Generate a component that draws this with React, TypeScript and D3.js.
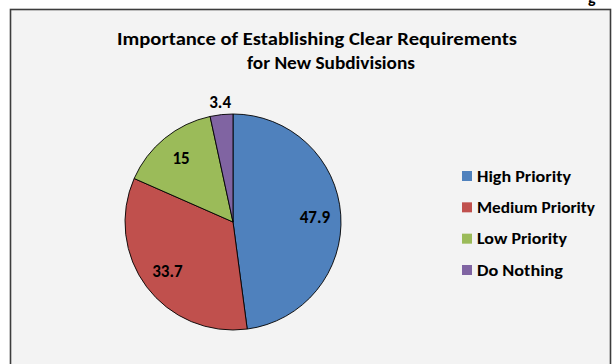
import React from "react";
import * as d3 from "d3";

const categories = ["High Priority", "Medium Priority", "Low Priority", "Do Nothing"];
const values = [47.9, 33.7, 15, 3.4];
const labels = ["47.9", "33.7", "15", "3.4"];
const colors = ["#4F81BD", "#C0504D", "#9BBB59", "#8064A2"];
const titleLines = ["Importance of Establishing Clear Requirements", "for New Subdivisions"];
const titleWidths = [400, 168];
const titleCenters = [317, 331];
const legendWidths = [94, 118, 90, 86];

const FONT = "Calibri, Carlito, Lato, 'Open Sans', sans-serif";

export default function App() {
  const width = 613;
  const height = 364;
  const cx = 233;
  const cy = 222;
  const r = 108;

  const pie = d3.pie<number>().sort(null).value((d) => d);
  const arcs = pie(values);
  const arcGen = d3.arc<d3.PieArcDatum<number>>().innerRadius(0).outerRadius(r);

  const labelPos = (a: d3.PieArcDatum<number>) => {
    const mid = (a.startAngle + a.endAngle) / 2;
    const small = a.endAngle - a.startAngle < 0.3;
    const rr = small ? r + 13 : r * 0.76;
    return [Math.sin(mid) * rr, -Math.cos(mid) * rr];
  };

  const legendY = d3.scalePoint<string>().domain(categories).range([176, 270]);

  return (
    <svg width={width} height={height} style={{ position: "absolute", left: 0, top: 0 }}>
      <rect x={0} y={0} width={width} height={height} fill="#ffffff" />
      <text x={588} y={3} fontFamily={FONT} fontWeight="bold" fontSize={16} fill="#000">g</text>
      <rect x={10.5} y={9.5} width={600} height={380} fill="#f3f3f3" stroke="#3c3c3c" strokeWidth={1.6} />
      {titleLines.map((t, i) => (
        <text
          key={t}
          x={titleCenters[i]}
          y={45 + i * 24}
          textAnchor="middle"
          fontFamily={FONT}
          fontWeight="bold"
          fontSize={19}
          textLength={titleWidths[i]}
          lengthAdjust="spacingAndGlyphs"
          fill="#000"
        >
          {t}
        </text>
      ))}
      <g transform={`translate(${cx},${cy})`}>
        {arcs.map((a, i) => (
          <path key={i} d={arcGen(a) || ""} fill={colors[i]} stroke="#000" strokeWidth={0.9} />
        ))}
        {arcs.map((a, i) => {
          const [x, y] = labelPos(a);
          return (
            <text
              key={"l" + i}
              x={x}
              y={y}
              dy="0.35em"
              textAnchor="middle"
              fontFamily={FONT}
              fontWeight="bold"
              fontSize={17}
              fill="#000"
            >
              {labels[i]}
            </text>
          );
        })}
      </g>
      {categories.map((c, i) => (
        <g key={c} transform={`translate(462,${legendY(c)})`}>
          <rect x={0} y={-5} width={10} height={10} fill={colors[i]} />
          <text
            x={15}
            y={0}
            dy="0.35em"
            fontFamily={FONT}
            fontWeight="bold"
            fontSize={16}
            textLength={legendWidths[i]}
            lengthAdjust="spacingAndGlyphs"
            fill="#000"
          >
            {c}
          </text>
        </g>
      ))}
    </svg>
  );
}
